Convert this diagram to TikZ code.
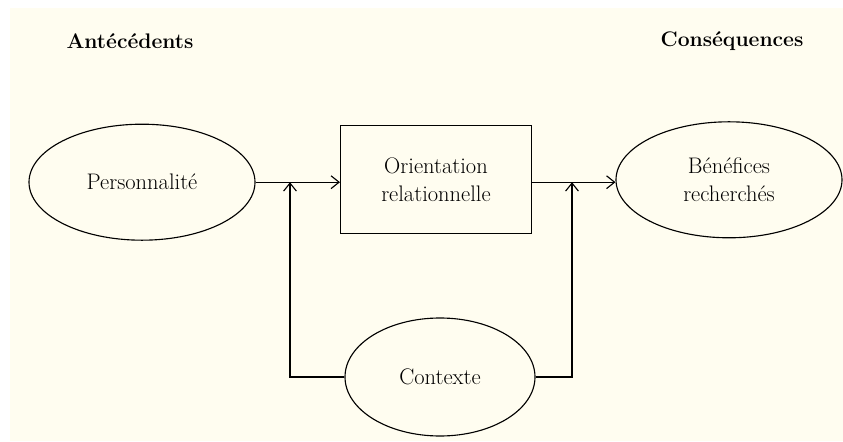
\documentclass[tikz,border=0pt]{standalone}
\usepackage{tikz}
\usetikzlibrary{shapes.geometric, arrows.meta}

\definecolor{cream}{HTML}{FFFDF0}

\tikzset{
  ovalnode/.style={draw, ellipse, line width=0.8pt, inner sep=0pt, font=\fontsize{16}{20}\selectfont, align=center},
  boxnode/.style={draw, rectangle, line width=0.8pt, inner sep=0pt, font=\fontsize{16}{20}\selectfont, align=center},
  headnode/.style={font=\fontsize{15}{18}\selectfont\bfseries},
  link/.style={line width=0.8pt, -{Straight Barb[length=2mm,width=3.2mm]}}
}

\begin{document}
\begin{tikzpicture}
    \useasboundingbox (0,0) rectangle (21.075,11.025);
    \fill[cream] (0.25,0) rectangle (21.075,10.825);

    \node[headnode] (ante) at (3.25,10.0) {Antécédents};
    \node[headnode] (cons) at (18.3,10.0) {Conséquences};

    \node[ovalnode, minimum width=5.65cm, minimum height=2.9cm] (pers) at (3.55,6.47) {Personnalité};
    \node[boxnode, minimum width=4.775cm, minimum height=2.7cm] (orient) at (10.9,6.53) {Orientation\\relationnelle};
    \node[ovalnode, minimum width=5.65cm, minimum height=2.9cm] (bene) at (18.225,6.53) {Bénéfices\\recherchés};
    \node[ovalnode, minimum width=4.75cm, minimum height=2.95cm] (ctx) at (11.0,1.6) {Contexte};

    \coordinate (j1) at (7.25,6.47);
    \coordinate (j2) at (14.3,6.47);

    \draw[link] (pers.east) -- (pers.east -| orient.west);
    \draw[link] (orient.east |- j2) -- (bene.west |- j2);
    \draw[link] (ctx.west) -| (j1);
    \draw[link] (ctx.east) -| (j2);
  \end{tikzpicture}
\end{document}
